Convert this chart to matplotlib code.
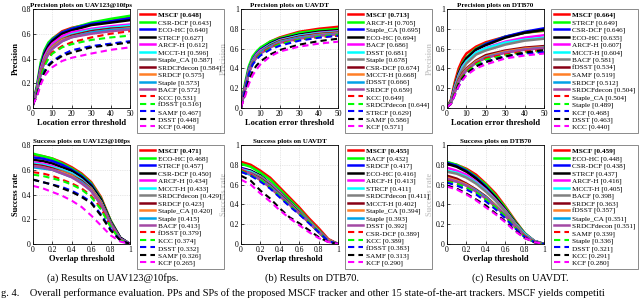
import matplotlib
matplotlib.use("Agg")
import matplotlib.pyplot as plt

plt.rcParams['font.family'] = ['Liberation Serif', 'DejaVu Serif']

# ---------------- data ----------------
prec_x = [0, 2, 4, 6, 8, 10, 15, 20, 30, 40, 50]
succ_x = [0, 0.1, 0.2, 0.3, 0.4, 0.5, 0.6, 0.7, 0.8, 0.9, 1.0]

# Panel (a) precision, UAV123@10fps
p1_names = ["MSCF", "CSR-DCF", "ECO-HC", "STRCF", "ARCF-H", "MCCT-H", "Staple_CA", "SRDCFdecon",
            "SRDCF", "Staple", "BACF", "KCC", "fDSST", "SAMF", "DSST", "KCF"]
p1_scores = [0.648, 0.643, 0.640, 0.627, 0.612, 0.596, 0.587, 0.584, 0.575, 0.573, 0.572,
             0.531, 0.516, 0.467, 0.448, 0.406]
p1_vals = [
    [0.03, 0.17, 0.35, 0.46, 0.52, 0.56, 0.62, 0.648, 0.68, 0.705, 0.73],
    [0.03, 0.18, 0.37, 0.47, 0.53, 0.56, 0.61, 0.643, 0.69, 0.72, 0.745],
    [0.03, 0.16, 0.34, 0.45, 0.51, 0.55, 0.61, 0.640, 0.68, 0.70, 0.725],
    [0.03, 0.15, 0.33, 0.44, 0.50, 0.54, 0.60, 0.627, 0.67, 0.69, 0.71],
    [0.03, 0.15, 0.32, 0.42, 0.48, 0.52, 0.58, 0.612, 0.64, 0.66, 0.675],
    [0.03, 0.14, 0.30, 0.40, 0.46, 0.50, 0.56, 0.596, 0.63, 0.65, 0.665],
    [0.03, 0.14, 0.30, 0.40, 0.46, 0.50, 0.56, 0.587, 0.62, 0.64, 0.65],
    [0.03, 0.13, 0.29, 0.39, 0.45, 0.49, 0.55, 0.584, 0.62, 0.64, 0.65],
    [0.03, 0.13, 0.29, 0.39, 0.45, 0.49, 0.55, 0.575, 0.61, 0.63, 0.645],
    [0.03, 0.13, 0.28, 0.38, 0.44, 0.48, 0.54, 0.573, 0.61, 0.63, 0.64],
    [0.03, 0.13, 0.28, 0.38, 0.44, 0.48, 0.54, 0.572, 0.60, 0.62, 0.635],
    [0.03, 0.12, 0.26, 0.35, 0.41, 0.45, 0.50, 0.531, 0.57, 0.60, 0.62],
    [0.03, 0.12, 0.25, 0.34, 0.40, 0.44, 0.49, 0.516, 0.55, 0.57, 0.585],
    [0.03, 0.10, 0.22, 0.30, 0.35, 0.38, 0.43, 0.467, 0.50, 0.52, 0.54],
    [0.03, 0.10, 0.21, 0.29, 0.34, 0.37, 0.42, 0.448, 0.49, 0.51, 0.53],
    [0.03, 0.09, 0.19, 0.26, 0.30, 0.33, 0.38, 0.406, 0.44, 0.47, 0.49],
]

# Panel (b) precision, UAVDT
p2_names = ["MSCF", "ARCF-H", "Staple_CA", "ECO-HC", "BACF", "DSST", "Staple", "CSR-DCF",
            "MCCT-H", "fDSST", "SRDCF", "KCC", "SRDCFdecon", "STRCF", "SAMF", "KCF"]
p2_scores = [0.713, 0.705, 0.695, 0.694, 0.686, 0.681, 0.678, 0.674, 0.668, 0.666, 0.659,
             0.649, 0.644, 0.629, 0.586, 0.571]
p2_vals = [
    [0.01, 0.22, 0.40, 0.50, 0.56, 0.60, 0.67, 0.713, 0.77, 0.80, 0.82],
    [0.01, 0.24, 0.42, 0.52, 0.57, 0.61, 0.67, 0.705, 0.76, 0.785, 0.80],
    [0.01, 0.21, 0.39, 0.49, 0.55, 0.59, 0.65, 0.695, 0.74, 0.765, 0.775],
    [0.01, 0.20, 0.38, 0.48, 0.54, 0.58, 0.65, 0.694, 0.74, 0.77, 0.785],
    [0.01, 0.20, 0.38, 0.48, 0.54, 0.58, 0.64, 0.686, 0.73, 0.76, 0.775],
    [0.01, 0.19, 0.37, 0.47, 0.53, 0.57, 0.64, 0.681, 0.73, 0.755, 0.77],
    [0.01, 0.19, 0.37, 0.47, 0.53, 0.57, 0.63, 0.678, 0.72, 0.75, 0.765],
    [0.01, 0.19, 0.36, 0.46, 0.52, 0.56, 0.63, 0.674, 0.72, 0.745, 0.76],
    [0.01, 0.18, 0.36, 0.46, 0.52, 0.56, 0.62, 0.668, 0.71, 0.74, 0.755],
    [0.01, 0.18, 0.36, 0.46, 0.52, 0.56, 0.62, 0.666, 0.71, 0.735, 0.75],
    [0.01, 0.18, 0.35, 0.45, 0.51, 0.55, 0.61, 0.659, 0.70, 0.73, 0.745],
    [0.01, 0.18, 0.35, 0.45, 0.51, 0.55, 0.61, 0.649, 0.69, 0.715, 0.73],
    [0.01, 0.17, 0.34, 0.44, 0.50, 0.54, 0.60, 0.644, 0.69, 0.72, 0.74],
    [0.01, 0.17, 0.34, 0.44, 0.49, 0.53, 0.59, 0.629, 0.68, 0.71, 0.73],
    [0.01, 0.13, 0.28, 0.37, 0.43, 0.47, 0.54, 0.586, 0.64, 0.675, 0.70],
    [0.01, 0.11, 0.24, 0.33, 0.39, 0.44, 0.52, 0.571, 0.62, 0.65, 0.67],
]

# Panel (c) precision, DTB70
p3_names = ["MSCF", "STRCF", "CSR-DCF", "ECO-HC", "ARCF-H", "MCCT-H", "BACF", "fDSST",
            "SAMF", "SRDCF", "SRDCFdecon", "Staple_CA", "Staple", "KCF", "DSST", "KCC"]
p3_scores = [0.664, 0.649, 0.646, 0.635, 0.607, 0.604, 0.581, 0.534, 0.519, 0.512, 0.504,
             0.504, 0.489, 0.468, 0.463, 0.440]
p3_vals = [
    [0.01, 0.08, 0.26, 0.40, 0.49, 0.55, 0.62, 0.664, 0.72, 0.76, 0.78],
    [0.01, 0.07, 0.23, 0.36, 0.45, 0.51, 0.60, 0.649, 0.72, 0.76, 0.785],
    [0.01, 0.06, 0.21, 0.34, 0.43, 0.50, 0.59, 0.646, 0.72, 0.77, 0.805],
    [0.01, 0.07, 0.22, 0.35, 0.44, 0.50, 0.59, 0.635, 0.71, 0.76, 0.79],
    [0.01, 0.06, 0.21, 0.33, 0.42, 0.47, 0.56, 0.607, 0.67, 0.71, 0.735],
    [0.01, 0.06, 0.20, 0.32, 0.41, 0.47, 0.56, 0.604, 0.66, 0.69, 0.71],
    [0.01, 0.06, 0.19, 0.31, 0.39, 0.45, 0.54, 0.581, 0.64, 0.68, 0.70],
    [0.01, 0.05, 0.17, 0.28, 0.35, 0.40, 0.48, 0.534, 0.58, 0.61, 0.625],
    [0.01, 0.05, 0.16, 0.27, 0.34, 0.39, 0.47, 0.519, 0.57, 0.60, 0.615],
    [0.01, 0.05, 0.16, 0.26, 0.33, 0.38, 0.46, 0.512, 0.56, 0.59, 0.61],
    [0.01, 0.05, 0.16, 0.26, 0.33, 0.38, 0.46, 0.504, 0.56, 0.59, 0.605],
    [0.01, 0.05, 0.15, 0.25, 0.32, 0.37, 0.45, 0.504, 0.54, 0.57, 0.585],
    [0.01, 0.05, 0.15, 0.25, 0.31, 0.36, 0.44, 0.489, 0.53, 0.56, 0.575],
    [0.01, 0.04, 0.13, 0.22, 0.29, 0.34, 0.42, 0.468, 0.52, 0.55, 0.565],
    [0.01, 0.04, 0.14, 0.24, 0.30, 0.35, 0.42, 0.463, 0.52, 0.56, 0.585],
    [0.01, 0.04, 0.13, 0.22, 0.28, 0.33, 0.40, 0.440, 0.50, 0.53, 0.55],
]

# Panel (a) success, UAV123@10fps
s1_names = ["MSCF", "ECO-HC", "STRCF", "CSR-DCF", "ARCF-H", "MCCT-H", "SRDCFdecon", "SRDCF",
            "Staple_CA", "Staple", "BACF", "fDSST", "KCC", "DSST", "SAMF", "KCF"]
s1_scores = [0.471, 0.468, 0.457, 0.450, 0.434, 0.433, 0.429, 0.423, 0.420, 0.415, 0.413,
             0.379, 0.374, 0.332, 0.326, 0.265]
s1_vals = [
    [0.72, 0.71, 0.69, 0.66, 0.62, 0.57, 0.50, 0.38, 0.19, 0.05, 0.0],
    [0.73, 0.71, 0.69, 0.65, 0.61, 0.56, 0.49, 0.37, 0.19, 0.05, 0.0],
    [0.70, 0.69, 0.67, 0.64, 0.60, 0.55, 0.48, 0.36, 0.18, 0.05, 0.0],
    [0.68, 0.67, 0.65, 0.62, 0.59, 0.54, 0.47, 0.36, 0.18, 0.05, 0.0],
    [0.66, 0.65, 0.63, 0.60, 0.57, 0.52, 0.45, 0.34, 0.17, 0.04, 0.0],
    [0.65, 0.64, 0.62, 0.60, 0.57, 0.52, 0.45, 0.34, 0.17, 0.04, 0.0],
    [0.64, 0.63, 0.61, 0.59, 0.56, 0.51, 0.45, 0.34, 0.17, 0.04, 0.0],
    [0.64, 0.63, 0.61, 0.58, 0.55, 0.51, 0.44, 0.33, 0.17, 0.04, 0.0],
    [0.63, 0.62, 0.60, 0.58, 0.55, 0.50, 0.44, 0.33, 0.16, 0.04, 0.0],
    [0.62, 0.61, 0.60, 0.57, 0.54, 0.50, 0.43, 0.32, 0.16, 0.04, 0.0],
    [0.63, 0.62, 0.60, 0.57, 0.54, 0.49, 0.43, 0.32, 0.16, 0.04, 0.0],
    [0.58, 0.57, 0.55, 0.52, 0.49, 0.45, 0.39, 0.29, 0.14, 0.03, 0.0],
    [0.56, 0.55, 0.53, 0.51, 0.48, 0.44, 0.38, 0.28, 0.14, 0.03, 0.0],
    [0.52, 0.50, 0.48, 0.46, 0.43, 0.39, 0.34, 0.24, 0.12, 0.03, 0.0],
    [0.52, 0.50, 0.48, 0.45, 0.42, 0.38, 0.33, 0.23, 0.11, 0.03, 0.0],
    [0.47, 0.45, 0.42, 0.39, 0.35, 0.30, 0.23, 0.15, 0.07, 0.02, 0.0],
]

# Panel (b) success, UAVDT
s2_names = ["MSCF", "BACF", "SRDCF", "ECO-HC", "ARCF-H", "STRCF", "SRDCFdecon", "MCCT-H",
            "Staple_CA", "Staple", "DSST", "CSR-DCF", "KCC", "fDSST", "SAMF", "KCF"]
s2_scores = [0.455, 0.432, 0.417, 0.416, 0.413, 0.411, 0.411, 0.402, 0.394, 0.393, 0.392,
             0.389, 0.389, 0.383, 0.313, 0.290]
s2_vals = [
    [0.83, 0.80, 0.74, 0.67, 0.57, 0.47, 0.37, 0.26, 0.16, 0.05, 0.0],
    [0.81, 0.78, 0.72, 0.65, 0.55, 0.45, 0.35, 0.24, 0.14, 0.04, 0.0],
    [0.77, 0.74, 0.69, 0.61, 0.52, 0.42, 0.33, 0.23, 0.13, 0.04, 0.0],
    [0.76, 0.74, 0.69, 0.61, 0.52, 0.43, 0.33, 0.23, 0.13, 0.04, 0.0],
    [0.76, 0.73, 0.68, 0.61, 0.52, 0.42, 0.33, 0.23, 0.13, 0.04, 0.0],
    [0.75, 0.73, 0.68, 0.60, 0.51, 0.42, 0.33, 0.23, 0.13, 0.04, 0.0],
    [0.74, 0.72, 0.68, 0.60, 0.51, 0.42, 0.33, 0.23, 0.13, 0.04, 0.0],
    [0.74, 0.71, 0.66, 0.59, 0.50, 0.41, 0.32, 0.22, 0.12, 0.04, 0.0],
    [0.73, 0.70, 0.65, 0.58, 0.49, 0.40, 0.31, 0.22, 0.12, 0.04, 0.0],
    [0.73, 0.70, 0.65, 0.58, 0.49, 0.40, 0.31, 0.22, 0.12, 0.03, 0.0],
    [0.75, 0.71, 0.65, 0.57, 0.48, 0.40, 0.31, 0.22, 0.12, 0.03, 0.0],
    [0.75, 0.70, 0.64, 0.57, 0.48, 0.39, 0.31, 0.22, 0.12, 0.03, 0.0],
    [0.74, 0.69, 0.65, 0.57, 0.48, 0.39, 0.31, 0.22, 0.12, 0.03, 0.0],
    [0.73, 0.69, 0.63, 0.56, 0.47, 0.38, 0.30, 0.21, 0.12, 0.03, 0.0],
    [0.69, 0.64, 0.54, 0.46, 0.36, 0.27, 0.21, 0.14, 0.07, 0.02, 0.0],
    [0.65, 0.60, 0.51, 0.43, 0.34, 0.26, 0.19, 0.12, 0.06, 0.02, 0.0],
]

# Panel (c) success, DTB70
s3_names = ["MSCF", "ECO-HC", "CSR-DCF", "STRCF", "ARCF-H", "MCCT-H", "BACF", "SRDCF",
            "fDSST", "Staple_CA", "SRDCFdecon", "SAMF", "Staple", "DSST", "KCC", "KCF"]
s3_scores = [0.459, 0.448, 0.438, 0.437, 0.416, 0.405, 0.398, 0.363, 0.357, 0.351, 0.351,
             0.339, 0.336, 0.321, 0.291, 0.280]
s3_vals = [
    [0.82, 0.80, 0.76, 0.70, 0.61, 0.51, 0.38, 0.24, 0.11, 0.03, 0.0],
    [0.83, 0.80, 0.75, 0.68, 0.60, 0.49, 0.37, 0.23, 0.11, 0.03, 0.0],
    [0.82, 0.79, 0.74, 0.67, 0.58, 0.47, 0.35, 0.22, 0.10, 0.03, 0.0],
    [0.81, 0.78, 0.73, 0.66, 0.57, 0.47, 0.35, 0.22, 0.10, 0.03, 0.0],
    [0.77, 0.74, 0.70, 0.63, 0.55, 0.45, 0.34, 0.21, 0.10, 0.03, 0.0],
    [0.74, 0.72, 0.68, 0.62, 0.54, 0.44, 0.33, 0.21, 0.10, 0.03, 0.0],
    [0.73, 0.71, 0.67, 0.61, 0.53, 0.44, 0.33, 0.21, 0.09, 0.03, 0.0],
    [0.69, 0.66, 0.61, 0.55, 0.48, 0.39, 0.29, 0.18, 0.08, 0.02, 0.0],
    [0.67, 0.64, 0.60, 0.54, 0.47, 0.39, 0.29, 0.18, 0.08, 0.02, 0.0],
    [0.65, 0.63, 0.59, 0.54, 0.47, 0.38, 0.29, 0.18, 0.08, 0.02, 0.0],
    [0.66, 0.63, 0.59, 0.53, 0.46, 0.38, 0.29, 0.18, 0.08, 0.02, 0.0],
    [0.64, 0.61, 0.57, 0.52, 0.45, 0.37, 0.28, 0.17, 0.08, 0.02, 0.0],
    [0.63, 0.61, 0.57, 0.52, 0.45, 0.37, 0.28, 0.17, 0.07, 0.02, 0.0],
    [0.62, 0.59, 0.55, 0.50, 0.43, 0.35, 0.26, 0.16, 0.07, 0.02, 0.0],
    [0.59, 0.56, 0.51, 0.45, 0.39, 0.31, 0.23, 0.14, 0.06, 0.02, 0.0],
    [0.58, 0.55, 0.50, 0.44, 0.37, 0.30, 0.22, 0.13, 0.06, 0.02, 0.0],
]

colors = ['#ff0000', '#00ff00', '#0000ff', '#000000', '#ff00ff', '#00ffff', '#808080',
          '#880015', '#ff7f27', '#00a2e8', '#a349a4',
          '#ff0000', '#00ff00', '#0000ff', '#000000', '#ff00ff']
styles = ['-'] * 11 + ['--'] * 5

# ---------------- figure ----------------
fig = plt.figure(figsize=(6.4, 3.0), dpi=100)
W, H = 640.0, 300.0

panels = [
    (prec_x, p1_names, p1_scores, p1_vals, "Precision plots on UAV123@10fps", 0.8, 'p', 33, 9),
    (prec_x, p2_names, p2_scores, p2_vals, "Precision plots on UAVDT", 1.0, 'p', 241, 9),
    (prec_x, p3_names, p3_scores, p3_vals, "Precision plots on DTB70", 1.0, 'p', 447, 9),
    (succ_x, s1_names, s1_scores, s1_vals, "Success plots on UAV123@10fps", 0.8, 's', 33, 145),
    (succ_x, s2_names, s2_scores, s2_vals, "Success plots on UAVDT", 1.0, 's', 241, 145),
    (succ_x, s3_names, s3_scores, s3_vals, "Success plots on DTB70", 1.0, 's', 447, 145),
]
ax_w, ax_h = 97, 99

for (xs, names, scores, vals, title, ymax, kind, left, top) in panels:
    ax = fig.add_axes([left / W, 1 - (top + ax_h) / H, ax_w / W, ax_h / H])
    handles = []
    for i, (nm, sc, v) in enumerate(zip(names, scores, vals)):
        lw = 1.8 if i < 11 else 1.5
        ln, = ax.plot(xs, v, color=colors[i], linestyle=styles[i], lw=lw,
                      dashes=(3, 2) if styles[i] == '--' else (None, None),
                      label=f"{nm} [{sc:.3f}]")
        handles.append(ln)
    if kind == 'p':
        ax.set_xlim(0, 50)
        ax.set_xticks([0, 10, 20, 30, 40, 50])
        ax.set_xlabel("Location error threshold", fontsize=6, fontweight='bold', labelpad=1)
        ax.set_ylabel("Precision", fontsize=6, fontweight='bold', labelpad=1)
    else:
        ax.set_xlim(0, 1)
        ax.set_xticks([0, 0.2, 0.4, 0.6, 0.8, 1])
        ax.set_xticklabels(['0', '0.2', '0.4', '0.6', '0.8', '1'])
        ax.set_xlabel("Overlap threshold", fontsize=6, fontweight='bold', labelpad=1)
        ax.set_ylabel("Success rate", fontsize=6, fontweight='bold', labelpad=1)
    ax.set_ylim(0, ymax)
    if ymax == 0.8:
        ax.set_yticks([0, 0.2, 0.4, 0.6, 0.8])
        ax.set_yticklabels(['0', '0.2', '0.4', '0.6', '0.8'])
    else:
        ax.set_yticks([0, 0.2, 0.4, 0.6, 0.8, 1])
        ax.set_yticklabels(['0', '0.2', '0.4', '0.6', '0.8', '1'])
    ax.tick_params(direction='in', length=2, width=0.5, labelsize=5.5, pad=1.5)
    ax.grid(True, color='#d0d0d0', linestyle=':', linewidth=0.5)
    for sp in ax.spines.values():
        sp.set_linewidth(0.6)
    ax.set_title(title, fontsize=5.0, fontweight='bold', pad=1.5)

    leg = fig.legend(handles=handles, loc='upper left',
                     bbox_to_anchor=((left + 104) / W, 1 - top / H),
                     fontsize=5.2, frameon=True, fancybox=False, edgecolor='#555555',
                     handlelength=2.2, handletextpad=0.4, labelspacing=0.13,
                     borderpad=0.35, borderaxespad=0.0)
    leg.get_frame().set_linewidth(0.6)
    leg.get_texts()[0].set_fontweight('bold')

fig.text(113 / W, 1 - 278 / H, "(a) Results on UAV123@10fps.", fontsize=7.5, ha='center', va='center')
fig.text(312 / W, 1 - 278 / H, "(b) Results on DTB70.", fontsize=7.5, ha='center', va='center')
fig.text(520 / W, 1 - 278 / H, "(c) Results on UAVDT.", fontsize=7.5, ha='center', va='center')
fig.text(1 / W, 1 - 293 / H,
         "g. 4.    Overall performance evaluation. PPs and SPs of the proposed MSCF tracker and other 15 "
         "state-of-the-art trackers. MSCF yields competiti",
         fontsize=7.5, ha='left', va='center')

fig.savefig("out.png", dpi=100)
